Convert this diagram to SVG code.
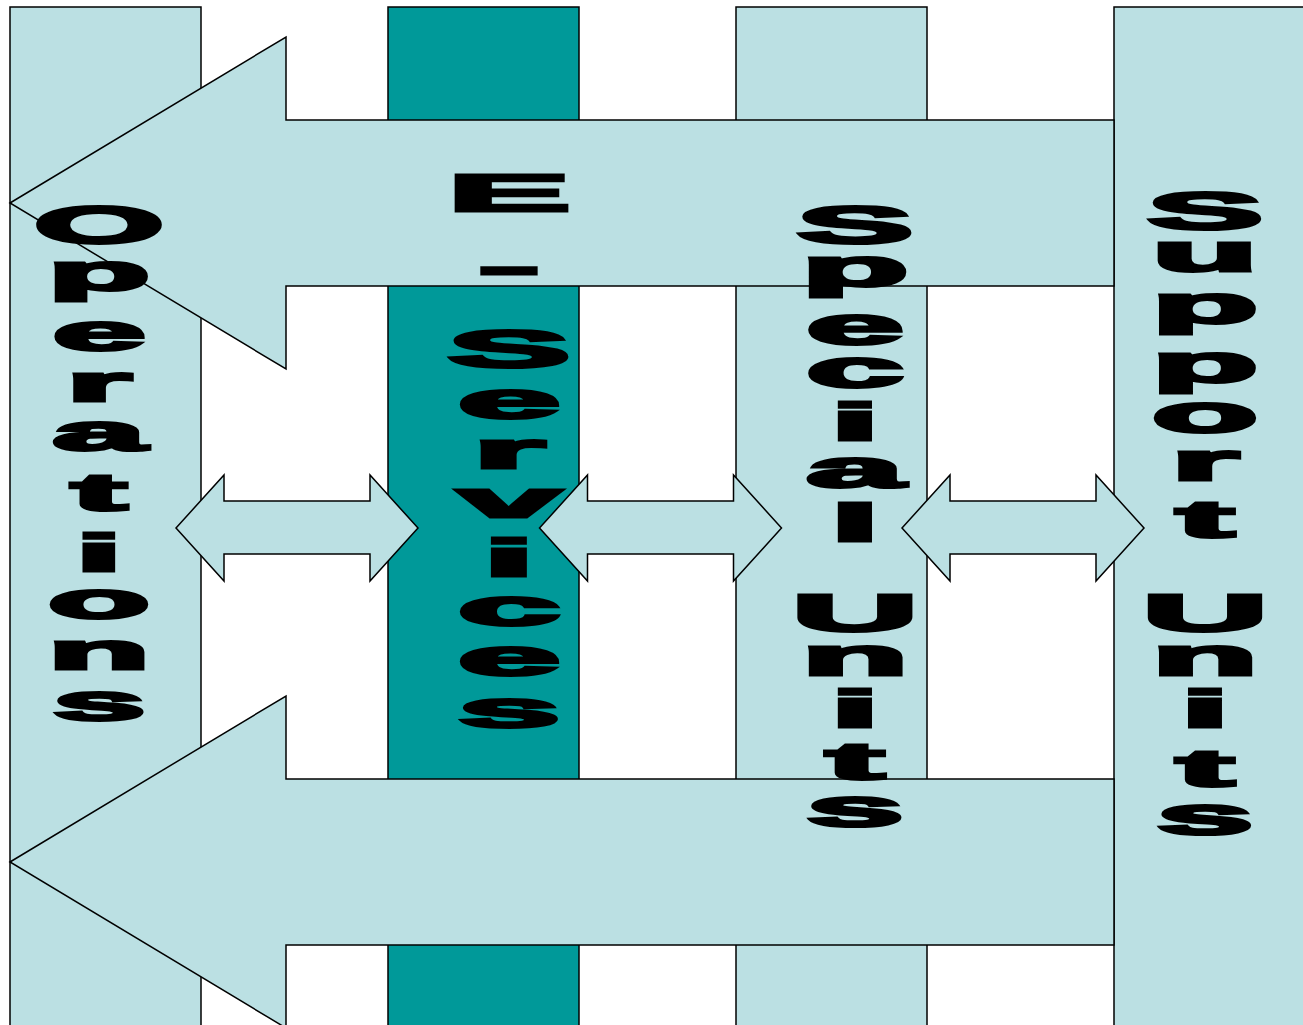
<svg xmlns="http://www.w3.org/2000/svg" width="1303" height="1025" viewBox="0 0 1303 1025">
<style>
.light{fill:#BBE0E3;stroke:#000;stroke-width:1.5}
.teal{fill:#009999;stroke:#000;stroke-width:1.5}
.arr{fill:#BBE0E3;stroke:#000;stroke-width:1.5;stroke-linejoin:miter}
.L{font-family:"Liberation Sans",Arial,sans-serif;font-weight:700;font-size:51px;text-anchor:middle;fill:#000;stroke:#000;stroke-width:3}
</style>
<rect width="1303" height="1025" fill="#fff"/>
<g id="columns">
<g id="col-operations"><rect class="light" x="10" y="7" width="191" height="1030"/></g>
<g id="col-eservices"><rect class="teal" x="388" y="7" width="191" height="1030"/></g>
<g id="col-special"><rect class="light" x="736" y="7" width="191" height="1030"/></g>
<g id="col-support"><rect class="light" x="1114" y="7" width="200" height="1030"/></g>
</g>
<g id="connectors">
<path class="arr" d="M10,203 L286,37 L286,120 L1114,120 L1114,286 L286,286 L286,369 Z"/>
<path class="arr" d="M10,862 L286,696 L286,779 L1114,779 L1114,945 L286,945 L286,1028 Z"/>
<path class="arr" d="M176,528 L224,475 L224,501 L370,501 L370,475 L418,528 L370,581 L370,554 L224,554 L224,581 Z"/>
<path class="arr" d="M539.5,528 L587.5,475 L587.5,501 L733.5,501 L733.5,475 L781.5,528 L733.5,581 L733.5,554 L587.5,554 L587.5,581 Z"/>
<path class="arr" d="M902,528 L950,475 L950,501 L1096,501 L1096,475 L1144,528 L1096,581 L1096,554 L950,554 L950,581 Z"/>
</g>
<g id="label-operations">
<text class="L" transform="translate(99 243) scale(3.27 1)">O</text>
<text class="L" transform="translate(99 289.5) scale(3.27 1)">p</text>
<text class="L" transform="translate(99 350) scale(3.27 1)">e</text>
<text class="L" transform="translate(99 400.5) scale(3.27 1)">r</text>
<text class="L" transform="translate(99 450) scale(3.27 1)">a</text>
<text class="L" transform="translate(99 510) scale(3.27 1)">t</text>
<text class="L" transform="translate(99 570.5) scale(3.27 1)">i</text>
<text class="L" transform="translate(99 618) scale(3.27 1)">o</text>
<text class="L" transform="translate(99 668.5) scale(3.27 1)">n</text>
<text class="L" transform="translate(99 720) scale(3.27 1)">s</text>
</g>
<g id="label-eservices">
<text class="L" transform="translate(509 210.5) scale(3.6 1)">E</text>
<text class="L" transform="translate(509 283.5) scale(3.6 1)">-</text>
<text class="L" transform="translate(509 367) scale(3.6 1)">S</text>
<text class="L" transform="translate(509 418) scale(3.6 1)">e</text>
<text class="L" transform="translate(509 468) scale(3.6 1)">r</text>
<text class="L" transform="translate(509 516.5) scale(3.6 1)">v</text>
<text class="L" transform="translate(509 575.5) scale(3.6 1)">i</text>
<text class="L" transform="translate(509 625) scale(3.6 1)">c</text>
<text class="L" transform="translate(509 675) scale(3.6 1)">e</text>
<text class="L" transform="translate(509 727) scale(3.6 1)">s</text>
</g>
<g id="label-special">
<text class="L" transform="translate(855 243) scale(3.42 1)">S</text>
<text class="L" transform="translate(855 286) scale(3.42 1)">p</text>
<text class="L" transform="translate(855 344) scale(3.42 1)">e</text>
<text class="L" transform="translate(855 387) scale(3.42 1)">c</text>
<text class="L" transform="translate(855 440) scale(3.42 1)">i</text>
<text class="L" transform="translate(855 487) scale(3.42 1)">a</text>
<text class="L" transform="translate(855 540.5) scale(3.42 1)">l</text>
<text class="L" transform="translate(855 631) scale(3.42 1)">U</text>
<text class="L" transform="translate(855 675) scale(3.42 1)">n</text>
<text class="L" transform="translate(855 727) scale(3.42 1)">i</text>
<text class="L" transform="translate(855 779) scale(3.42 1)">t</text>
<text class="L" transform="translate(855 826) scale(3.42 1)">s</text>
</g>
<g id="label-support">
<text class="L" transform="translate(1205 229) scale(3.4 1)">S</text>
<text class="L" transform="translate(1205 271) scale(3.4 1)">u</text>
<text class="L" transform="translate(1205 323) scale(3.4 1)">p</text>
<text class="L" transform="translate(1205 382) scale(3.4 1)">p</text>
<text class="L" transform="translate(1205 432) scale(3.4 1)">o</text>
<text class="L" transform="translate(1205 480) scale(3.4 1)">r</text>
<text class="L" transform="translate(1205 537) scale(3.4 1)">t</text>
<text class="L" transform="translate(1205 631) scale(3.4 1)">U</text>
<text class="L" transform="translate(1205 675) scale(3.4 1)">n</text>
<text class="L" transform="translate(1205 727) scale(3.4 1)">i</text>
<text class="L" transform="translate(1205 786) scale(3.4 1)">t</text>
<text class="L" transform="translate(1205 834) scale(3.4 1)">s</text>
</g>
</svg>
